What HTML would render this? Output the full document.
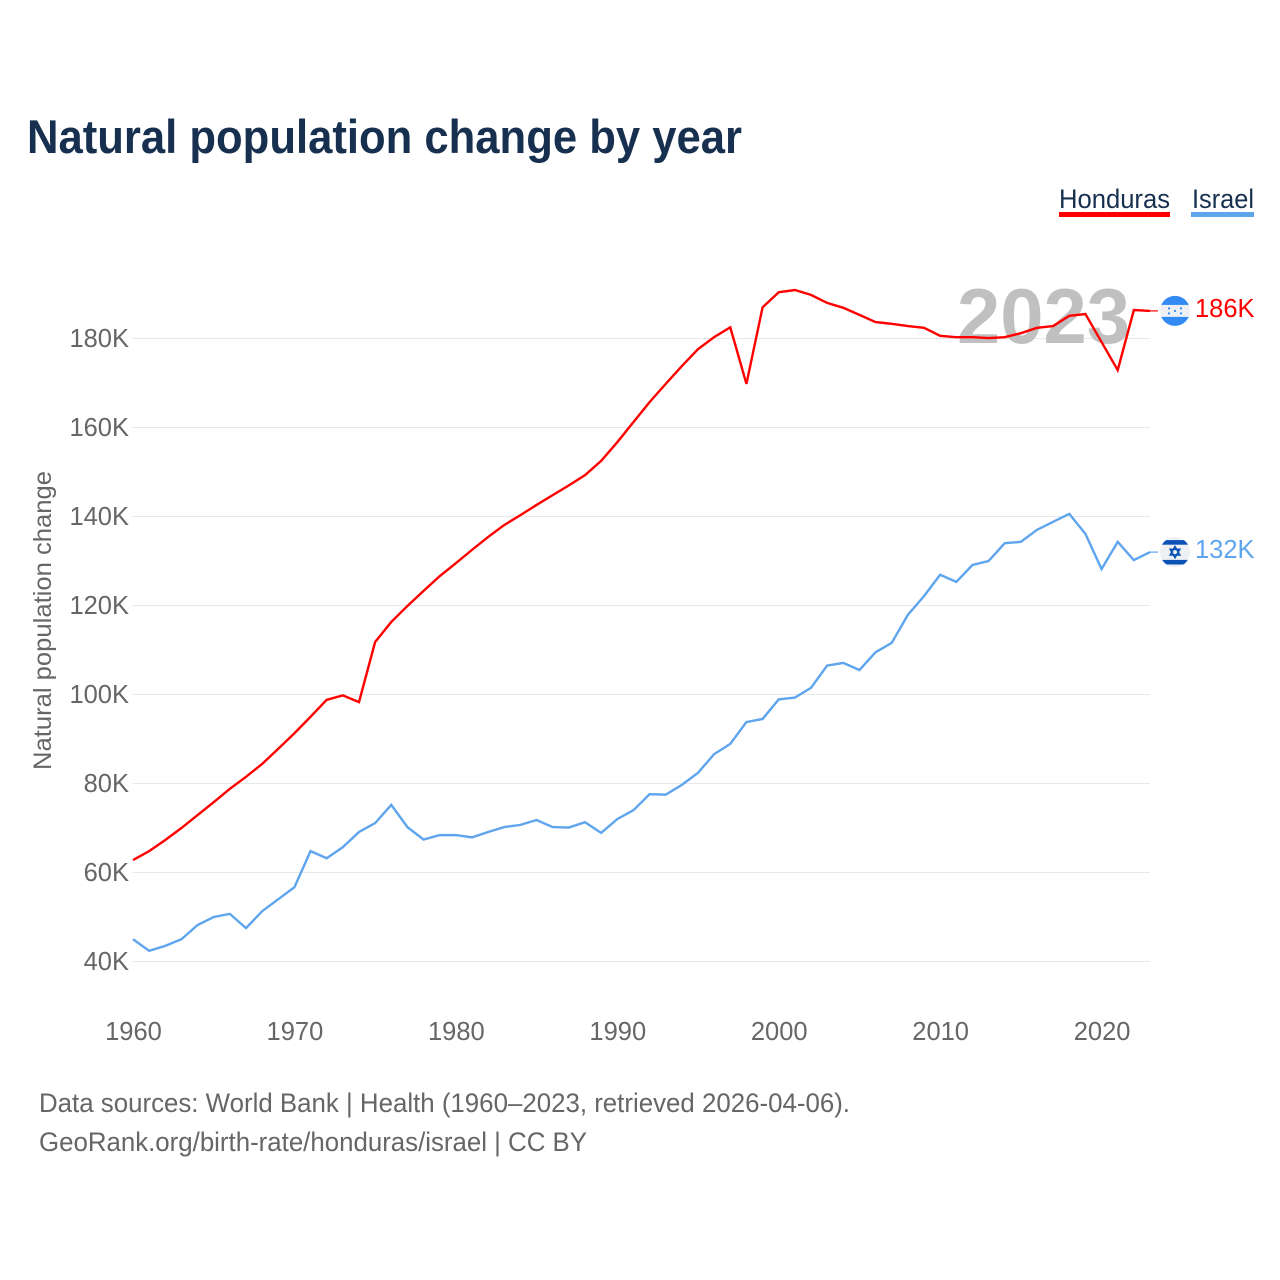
<!DOCTYPE html>
<html lang="en">
<head>
<meta charset="utf-8">
<title>Natural population change by year</title>
<style>
html,body{margin:0;padding:0;background:#fff;width:1280px;height:1280px;overflow:hidden}
svg{display:block;font-family:"Liberation Sans",sans-serif}
</style>
</head>
<body>
<svg id="chart" xmlns="http://www.w3.org/2000/svg" width="1280" height="1280" viewBox="0 0 1280 1280">
  <rect width="1280" height="1280" fill="#fff"/>
  <text x="27" y="153" font-size="47" font-weight="700" fill="#17304f" textLength="715" lengthAdjust="spacingAndGlyphs">Natural population change by year</text>

  <g>
    <text x="1059" y="208" font-size="27" fill="#17304f" textLength="111" lengthAdjust="spacingAndGlyphs">Honduras</text>
    <rect x="1059" y="212" width="111" height="5" fill="#ff0000"/>
  </g>
  <g>
    <text x="1192" y="208" font-size="27" fill="#17304f" textLength="62" lengthAdjust="spacingAndGlyphs">Israel</text>
    <rect x="1191" y="212" width="63" height="5" fill="#5ea5ee"/>
  </g>

  <g id="grid"></g>
  <text x="957" y="343" font-size="78" font-weight="700" fill="#c0c0c0" textLength="173" lengthAdjust="spacingAndGlyphs">2023</text>
  <g id="yTicks"></g>
  <g id="xTicks"></g>
  <text transform="translate(51 770) rotate(-90)" font-size="25" fill="#666" textLength="299" lengthAdjust="spacingAndGlyphs">Natural population change</text>

  <g id="series"></g>

  <defs>
    <clipPath id="clip-hn"><circle cx="0" cy="0" r="15"/></clipPath>
    <clipPath id="clip-il"><circle cx="0" cy="0" r="15"/></clipPath>
  </defs>
  <g id="flagHonduras">
    <g clip-path="url(#clip-hn)">
      <rect x="-16" y="-16" width="32" height="32" fill="#eef0f4"/>
      <rect x="-16" y="-16" width="32" height="10" fill="#338af3"/>
      <rect x="-16" y="6" width="32" height="10" fill="#338af3"/>
      <g fill="#338af3">
        <circle cx="-6" cy="-2.5" r="1.1"/><circle cx="6" cy="-2.5" r="1.1"/>
        <circle cx="0" cy="0" r="1.1"/>
        <circle cx="-6" cy="2.5" r="1.1"/><circle cx="6" cy="2.5" r="1.1"/>
      </g>
    </g>
  </g>
  <g id="flagIsrael">
    <g clip-path="url(#clip-il)">
      <rect x="-16" y="-16" width="32" height="32" fill="#eef0f4"/>
      <rect x="-16" y="-12" width="32" height="4.6" fill="#0a52b5"/>
      <rect x="-16" y="7.8" width="32" height="4.6" fill="#0a52b5"/>
      <polygon points="0,-5.5 4.8,2.8 -4.8,2.8" fill="none" stroke="#0a52b5" stroke-width="1.6"/>
      <polygon points="0,5.5 4.8,-2.8 -4.8,-2.8" fill="none" stroke="#0a52b5" stroke-width="1.6"/>
    </g>
  </g>
  <text id="endHonduras" x="1195" font-size="25.5" fill="#ff0000"></text>
  <text id="endIsrael" x="1195" font-size="25.5" fill="#5ea5ee"></text>

  <text x="39" y="1112" font-size="27" fill="#666" textLength="811" lengthAdjust="spacingAndGlyphs">Data sources: World Bank | Health (1960–2023, retrieved 2026-04-06).</text>
  <text x="39" y="1151" font-size="27" fill="#666" textLength="548" lengthAdjust="spacingAndGlyphs">GeoRank.org/birth-rate/honduras/israel | CC BY</text>
</svg>
<script>
const firstYear = 1960;
const yTickValues = [40, 60, 80, 100, 120, 140, 160, 180];
const xTickValues = [1960, 1970, 1980, 1990, 2000, 2010, 2020];
const hondurasValues = [62.8,64.8,67.3,70,72.9,75.8,78.8,81.5,84.4,87.8,91.3,95,98.8,99.8,98.3,111.8,116.3,119.9,123.3,126.6,129.5,132.5,135.4,138.1,140.3,142.6,144.8,147,149.3,152.5,156.7,161.2,165.7,169.8,173.8,177.6,180.3,182.5,169.8,187,190.4,190.9,189.8,188,186.9,185.3,183.7,183.3,182.8,182.4,180.6,180.3,180.3,180.1,180.3,181.2,182.4,182.8,185.1,185.5,179.2,172.9,186.4,186.2];
const israelValues = [45,42.4,43.5,45,48.2,50,50.7,47.5,51.3,54,56.7,64.8,63.2,65.7,69.1,71.1,75.2,70.2,67.4,68.4,68.4,67.9,69.1,70.2,70.7,71.8,70.2,70.1,71.3,68.9,72,74,77.6,77.5,79.7,82.4,86.6,88.9,93.8,94.5,98.9,99.3,101.5,106.5,107.1,105.5,109.5,111.6,117.9,122.1,126.9,125.3,129.1,130,134,134.3,137,138.8,140.6,136.1,128.2,134.3,130.2,132];

const NS = 'http://www.w3.org/2000/svg';
function xScale(year) { return 133 + (year - 1960) * (1017 / 63); }
function yScale(v) { return 961.5 - (v - 40) * (623 / 140); }
function make(tag, parent) {
  const el = document.createElementNS(NS, tag);
  parent.appendChild(el);
  return el;
}

const gridG = document.getElementById('grid');
const yG = document.getElementById('yTicks');
yTickValues.forEach(function (v) {
  const line = make('line', gridG);
  
  
  line.setAttribute('x1', 133);
  line.setAttribute('x2', 1150);
  line.setAttribute('y1', yScale(v));
  line.setAttribute('y2', yScale(v));
  line.setAttribute('stroke', '#e8e8e8');
  line.setAttribute('stroke-width', 1);
  const t = make('text', yG);
  
  
  t.setAttribute('x', 129);
  t.setAttribute('y', yScale(v) + 8.5);
  t.setAttribute('text-anchor', 'end');
  t.setAttribute('font-size', 25.5);
  t.setAttribute('fill', '#666');
  t.textContent = v + 'K';
});

const xG = document.getElementById('xTicks');
xTickValues.forEach(function (yr) {
  const t = make('text', xG);
  
  
  t.setAttribute('x', xScale(yr) + 0.5);
  t.setAttribute('y', 1040);
  t.setAttribute('text-anchor', 'middle');
  t.setAttribute('font-size', 25.5);
  t.setAttribute('fill', '#666');
  t.textContent = yr;
});

function pathFor(values) {
  return values.map(function (v, i) {
    return (i ? 'L' : 'M') + xScale(firstYear + i).toFixed(2) + ' ' + yScale(v).toFixed(2);
  }).join(' ');
}
const seriesG = document.getElementById('series');

const hondurasLine = make('path', seriesG);


hondurasLine.setAttribute('d', pathFor(hondurasValues));
hondurasLine.setAttribute('fill', 'none');
hondurasLine.setAttribute('stroke', '#ff0000');
hondurasLine.setAttribute('stroke-width', 2.4);

const israelLine = make('path', seriesG);


israelLine.setAttribute('d', pathFor(israelValues));
israelLine.setAttribute('fill', 'none');
israelLine.setAttribute('stroke', '#5ea5ee');
israelLine.setAttribute('stroke-width', 2.4);

function placeEnd(values, color, flagId, labelId, connectorName) {
  const last = values[values.length - 1];
  const y = yScale(last);
  const c = make('line', seriesG);
  
  
  c.setAttribute('x1', 1150);
  c.setAttribute('x2', 1158);
  c.setAttribute('y1', y);
  c.setAttribute('y2', y);
  c.setAttribute('stroke', color);
  c.setAttribute('stroke-width', 1.2);
  document.getElementById(flagId).setAttribute('transform', 'translate(1175 ' + y.toFixed(2) + ')');
  const label = document.getElementById(labelId);
  label.setAttribute('y', (y + 6).toFixed(2));
  label.textContent = Math.round(last) + 'K';
}
placeEnd(hondurasValues, '#ff0000', 'flagHonduras', 'endHonduras', 'connector-honduras');
placeEnd(israelValues, '#5ea5ee', 'flagIsrael', 'endIsrael', 'connector-israel');
</script>
</body>
</html>
